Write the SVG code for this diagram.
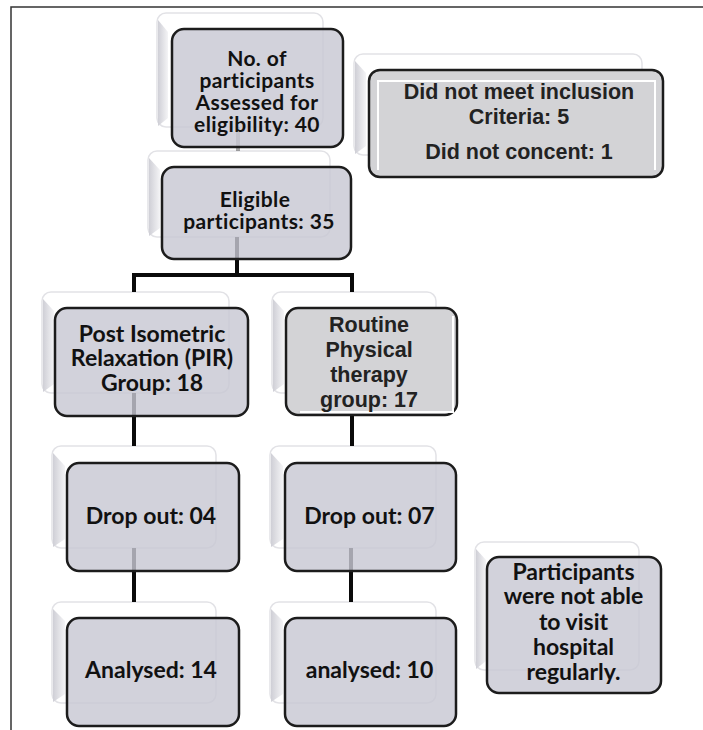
<svg xmlns="http://www.w3.org/2000/svg" width="703" height="730" viewBox="0 0 703 730">
<defs>
<linearGradient id="bev" x1="0" y1="0" x2="1" y2="0">
<stop offset="0" stop-color="#cfcfd6"/>
<stop offset="1" stop-color="#f4f4f6"/>
</linearGradient>
<style>
.frame{stroke:#333;stroke-width:1.5;fill:none}
.back{fill:#fff;stroke:#e2e2e6;stroke-width:1.5}
.bevel{fill:url(#bev)}
.front{fill:#c8c8d3;fill-opacity:0.82;stroke:#1c1c1c;stroke-width:2.5}
.front2{fill:#d3d3d6;stroke:#1c1c1c;stroke-width:2.5}
.conn{stroke:#0a0a0a;stroke-width:4;fill:none}
.t{font-family:Lato,"Noto Sans",sans-serif;font-weight:bold;font-size:23px;fill:#111;text-anchor:middle}
.s{font-size:21px;letter-spacing:0.4px}
.a{font-family:"Liberation Sans",Arial,sans-serif;font-weight:bold;font-size:21.5px;fill:#222;text-anchor:middle}
.wl{stroke:#fff;stroke-width:2;fill:none}
</style>
</defs>
<rect width="703" height="730" fill="#fff"/>
<path class="frame" d="M11,730 V7 H703"/>

<g id="back-boxes">
<rect class="back" x="157" y="13" width="166" height="114" rx="9"/>
<path class="bevel" d="M158,20 L168,32 V118 L158,126 Z"/>
<rect class="back" x="148" y="151" width="182" height="86" rx="9"/>
<path class="bevel" d="M149,158 L160,170 V228 L149,236 Z"/>
<rect class="back" x="354" y="54" width="288" height="101" rx="9"/>
<path class="bevel" d="M355,61 L366,73 V146 L355,154 Z"/>
<rect class="back" x="42" y="292" width="187" height="101" rx="9"/>
<path class="bevel" d="M43,299 L54,311 V384 L43,392 Z"/>
<rect class="back" x="272" y="292" width="164" height="101" rx="9"/>
<path class="bevel" d="M273,299 L284,311 V384 L273,392 Z"/>
<rect class="back" x="52" y="446" width="164" height="102" rx="9"/>
<path class="bevel" d="M53,453 L65,466 V539 L53,547 Z"/>
<rect class="back" x="270" y="446" width="166" height="102" rx="9"/>
<path class="bevel" d="M271,453 L283,466 V539 L271,547 Z"/>
<rect class="back" x="52" y="602" width="164" height="101" rx="9"/>
<path class="bevel" d="M53,609 L65,621 V694 L53,702 Z"/>
<rect class="back" x="270" y="602" width="166" height="101" rx="9"/>
<path class="bevel" d="M271,609 L283,621 V694 L271,702 Z"/>
<rect class="back" x="475" y="542" width="164" height="128" rx="9"/>
<path class="bevel" d="M476,549 L486,560 V661 L476,669 Z"/>
</g>

<g id="connectors">
<line class="conn" x1="238" y1="127" x2="238" y2="151" stroke-opacity="0.35"/>
<path class="conn" d="M237,237 V275 M132,275 H354 M134,273 V292 M352,273 V292"/>
<line class="conn" x1="134" y1="393" x2="134" y2="446"/>
<line class="conn" x1="352" y1="393" x2="352" y2="446"/>
<line class="conn" x1="134" y1="548" x2="134" y2="602"/>
<line class="conn" x1="351" y1="548" x2="351" y2="602"/>
</g>

<g id="n-assessed">
<rect class="front" x="172" y="29" width="171" height="118" rx="12"/>
<text class="t s"><tspan x="257" y="66">No. of</tspan><tspan x="257" y="88">participants</tspan><tspan x="257" y="110">Assessed for</tspan><tspan x="257" y="132">eligibility: 40</tspan></text>
</g>

<g id="n-excluded">
<rect class="front2" x="369" y="70" width="294" height="107" rx="11"/>
<path class="wl" d="M378,170 V81 H655 V170"/>
<text class="a"><tspan x="519" y="99">Did not meet inclusion</tspan><tspan x="519" y="124">Criteria: 5</tspan></text>
<text class="a" x="519" y="159">Did not concent: 1</text>
</g>

<g id="n-eligible">
<rect class="front" x="162" y="167" width="189" height="92" rx="12"/>
<text class="t s"><tspan x="255" y="207">Eligible</tspan><tspan x="259" y="229">participants: 35</tspan></text>
</g>

<g id="n-pir">
<rect class="front" x="55" y="308" width="193" height="108" rx="12"/>
<text class="t"><tspan x="152" y="342">Post Isometric</tspan><tspan x="152" y="366">Relaxation (PIR)</tspan><tspan x="152" y="391">Group: 18</tspan></text>
</g>

<g id="n-routine">
<rect class="front2" x="286" y="308" width="171" height="107" rx="12"/>
<path class="wl" d="M300,412 H453 V316"/>
<text class="a"><tspan x="369" y="332">Routine</tspan><tspan x="369" y="357">Physical</tspan><tspan x="369" y="382">therapy</tspan><tspan x="369" y="407">group: 17</tspan></text>
</g>

<g id="n-drop04">
<rect class="front" x="67" y="463" width="172" height="108" rx="12"/>
<text class="t" x="151" y="524">Drop out: 04</text>
</g>

<g id="n-drop07">
<rect class="front" x="285" y="463" width="171" height="108" rx="12"/>
<text class="t" x="369.5" y="524">Drop out: 07</text>
</g>

<g id="n-an14">
<rect class="front" x="67" y="618" width="172" height="108" rx="12"/>
<text class="t" x="151" y="678">Analysed: 14</text>
</g>

<g id="n-an10">
<rect class="front" x="285" y="618" width="171" height="108" rx="12"/>
<text class="t" x="369.5" y="678">analysed: 10</text>
</g>

<g id="n-reason">
<rect class="front" x="487" y="557" width="174" height="136" rx="12"/>
<text class="t"><tspan x="573.5" y="580">Participants</tspan><tspan x="573.5" y="604">were not able</tspan><tspan x="573.5" y="630">to visit</tspan><tspan x="573.5" y="655">hospital</tspan><tspan x="573.5" y="680">regularly.</tspan></text>
</g>
</svg>
